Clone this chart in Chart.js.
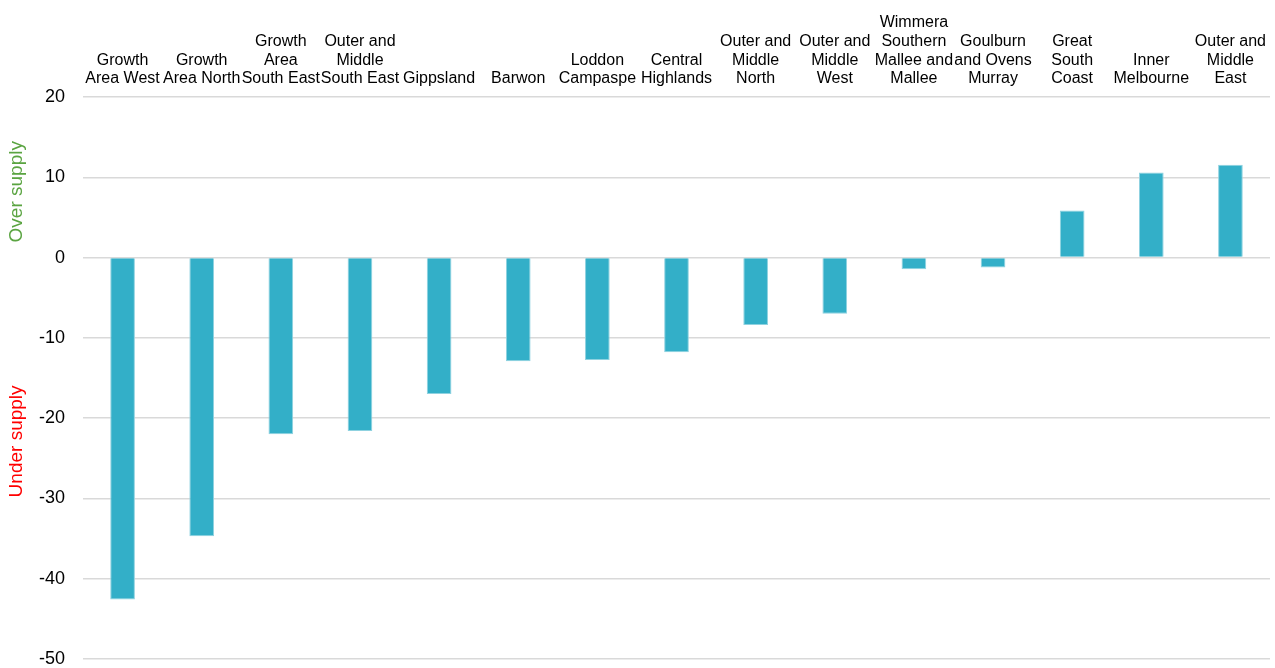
<!DOCTYPE html>
<html>
<head>
<meta charset="utf-8">
<script src="https://cdn.jsdelivr.net/npm/chart.js@4"></script>
<style>
  html, body { margin: 0; padding: 0; background: #ffffff; }
  #wrap { width: 1275px; height: 668px; }
</style>
</head>
<body>
<div id="wrap"><canvas id="chart" width="1275" height="668"></canvas></div>
<script>
// Regions, each label split into the lines shown above the plot
const regions = [
  ["Growth", "Area West"],
  ["Growth", "Area North"],
  ["Growth", "Area", "South East"],
  ["Outer and", "Middle", "South East"],
  "Gippsland",
  "Barwon",
  ["Loddon", "Campaspe"],
  ["Central", "Highlands"],
  ["Outer and", "Middle", "North"],
  ["Outer and", "Middle", "West"],
  ["Wimmera", "Southern", "Mallee and", "Mallee"],
  ["Goulburn", "and Ovens", "Murray"],
  ["Great", "South", "Coast"],
  ["Inner", "Melbourne"],
  ["Outer and", "Middle", "East"]
];

// Supply balance per region (negative = under supply)
const supplyBalance = [
  -42.6, -34.7, -22.0, -21.6, -17.0, -12.9, -12.75, -11.8,
  -8.4, -7.0, -1.45, -1.25, 5.85, 10.6, 11.55
];

// Value axis range and step
const yMin = -50;
const yMax = 20;
const yStep = 10;

const FONT = "'Liberation Sans', Arial, sans-serif";

// Coloured side captions for the two halves of the value axis
const sideCaptions = {
  id: 'sideCaptions',
  afterDraw(chart) {
    const ctx = chart.ctx;
    const y = chart.scales.y;
    ctx.save();
    ctx.font = "19px " + FONT;
    ctx.textAlign = 'center';
    ctx.textBaseline = 'middle';
    const items = [
      { text: 'Over supply', color: '#5aa441', value: 8.2 },
      { text: 'Under supply', color: '#ff0000', value: -22.9 }
    ];
    items.forEach(it => {
      ctx.save();
      ctx.translate(17, y.getPixelForValue(it.value));
      ctx.rotate(-Math.PI / 2);
      ctx.fillStyle = it.color;
      ctx.fillText(it.text, 0, 0);
      ctx.restore();
    });
    ctx.restore();
  }
};

new Chart(document.getElementById('chart'), {
  type: 'bar',
  data: {
    labels: regions,
    datasets: [{
      data: supplyBalance,
      backgroundColor: '#33afc8',
      borderColor: '#8fd2e0',
      borderWidth: 1,
      borderSkipped: 'start',
      barPercentage: 0.6,
      categoryPercentage: 0.52
    }]
  },
  options: {
    responsive: false,
    animation: false,
    devicePixelRatio: 1,
    layout: { padding: { left: 0, right: 5, top: 0, bottom: 9 } },
    plugins: {
      legend: { display: false },
      tooltip: { enabled: false }
    },
    scales: {
      x: {
        position: 'top',
        grid: { display: false, drawTicks: false },
        border: { display: false },
        ticks: {
          color: '#000000',
          font: { family: FONT, size: 16, lineHeight: 1.16 },
          padding: 9,
          maxRotation: 0,
          autoSkip: false
        },
        afterFit(scale) {
          scale.height = 97;
          scale.paddingLeft = 0;
          scale.paddingRight = 0;
        }
      },
      y: {
        min: yMin,
        max: yMax,
        grid: { color: '#d9d9d9', lineWidth: 1.5, drawTicks: false },
        border: { display: false },
        ticks: {
          stepSize: yStep,
          color: '#000000',
          font: { family: FONT, size: 18 },
          padding: 18
        },
        afterFit(scale) {
          scale.width = 83;
          scale.paddingTop = 0;
          scale.paddingBottom = 0;
        }
      }
    }
  },
  plugins: [sideCaptions]
});
</script>
</body>
</html>
